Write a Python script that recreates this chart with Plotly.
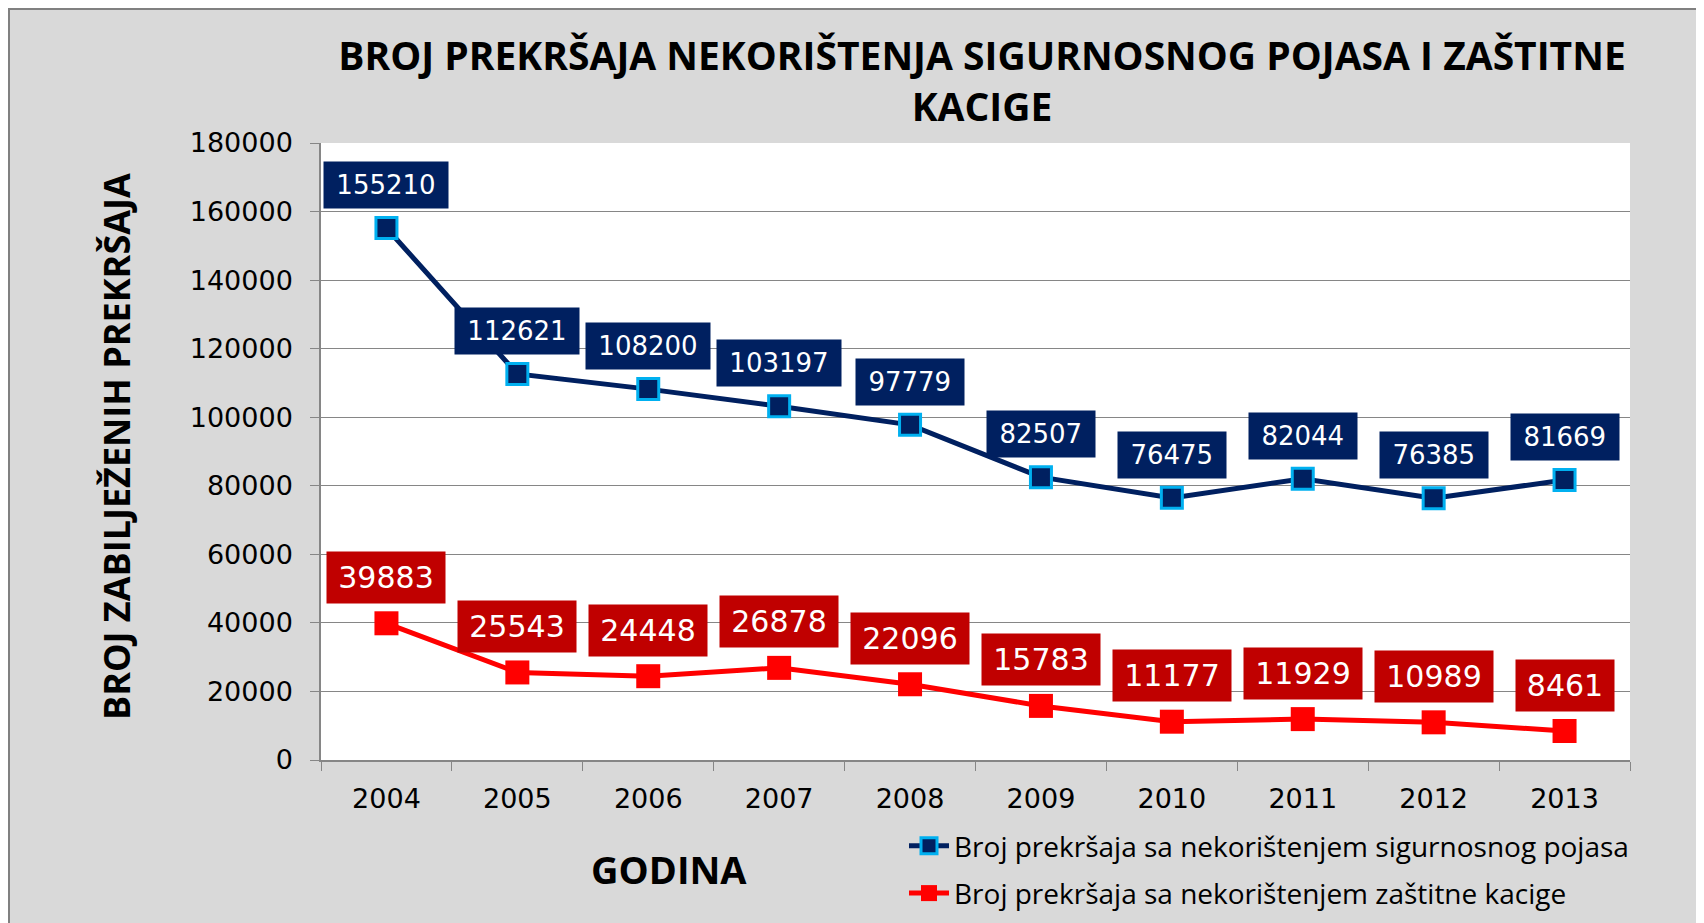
import plotly.graph_objects as go

years = ["2004", "2005", "2006", "2007", "2008", "2009", "2010", "2011", "2012", "2013"]
pojas = [155210, 112621, 108200, 103197, 97779, 82507, 76475, 82044, 76385, 81669]
kaciga = [39883, 25543, 24448, 26878, 22096, 15783, 11177, 11929, 10989, 8461]
name_pojas = "Broj prekršaja sa nekorištenjem sigurnosnog pojasa"
name_kaciga = "Broj prekršaja sa nekorištenjem zaštitne kacige"
title_text = "BROJ PREKRŠAJA NEKORIŠTENJA SIGURNOSNOG POJASA I ZAŠTITNE<br>KACIGE"
y_title = "BROJ ZABILJEŽENIH PREKRŠAJA"
x_title = "GODINA"
y_ticks = [0, 20000, 40000, 60000, 80000, 100000, 120000, 140000, 160000, 180000]

OFF = 8  # browser body margin
W, H = 1704 - OFF, 923 - OFF
L, T = 321 - OFF, 143 - OFF
R = W - (1630 - OFF)
B = H - (760 - OFF)
PW, PH = W - L - R, H - T - B

NAVY = "#002060"
LIGHTBLUE = "#00b0f0"
RED = "#ff0000"
DARKRED = "#c00000"
GRID = "#868686"


def px_x(p):
    return (p - OFF - L) / PW


def px_y(p):
    return (H - B - (p - OFF)) / PH


fig = go.Figure()
fig.add_trace(go.Scatter(
    x=years, y=pojas, name=name_pojas, mode="lines+markers",
    line=dict(color=NAVY, width=5),
    marker=dict(symbol="square", size=21, color=NAVY, line=dict(color=LIGHTBLUE, width=3)),
    legendgroup="a",
))
fig.add_trace(go.Scatter(
    x=years, y=kaciga, name=name_kaciga, mode="lines+markers",
    line=dict(color=RED, width=5),
    marker=dict(symbol="square", size=24, color=RED, line=dict(color=RED, width=0)),
    legendgroup="b",
))

annotations = []
for i, v in enumerate(pojas):
    s = str(v)
    annotations.append(dict(
        x=i, y=v, xref="x", yref="y", text=s, showarrow=False,
        yshift=43, bgcolor=NAVY, borderpad=8, width=len(s) * 16.5 + 9,
        font=dict(family="DejaVu Sans", size=26, color="white"),
    ))
for i, v in enumerate(kaciga):
    s = str(v)
    annotations.append(dict(
        x=i, y=v, xref="x", yref="y", text=s, showarrow=False,
        yshift=46, bgcolor=DARKRED, borderpad=8, width=len(s) * 20 + 2,
        font=dict(family="DejaVu Sans", size=30, color="white"),
    ))

# axis titles
annotations.append(dict(
    x=px_x(116), y=px_y(446), xref="paper", yref="paper",
    text=y_title, textangle=-90, showarrow=False,
    font=dict(family="Open Sans", size=36, color="black", weight="bold"),
    xanchor="center", yanchor="middle",
))
annotations.append(dict(
    x=px_x(669), y=px_y(869), xref="paper", yref="paper",
    text=x_title, showarrow=False,
    font=dict(family="Open Sans", size=38, color="black", weight="bold"),
    xanchor="center", yanchor="middle",
))

shapes = [
    dict(type="rect", xref="paper", yref="paper", layer="below",
         x0=px_x(OFF), x1=px_x(1704 + 20),
         y0=px_y(923 + 20), y1=px_y(OFF),
         fillcolor="rgba(0,0,0,0)", line=dict(color="#808080", width=4)),
]

fig.update_layout(
    width=W, height=H,
    margin=dict(l=L, r=R, t=T, b=B, autoexpand=False),
    paper_bgcolor="#d9d9d9",
    plot_bgcolor="white",
    title=dict(
        text=title_text, x=(982 - OFF) / W, xref="container", xanchor="center",
        y=1 - 62 / H, yref="container", yanchor="middle",
        font=dict(family="Open Sans", size=39, color="black", weight="bold"),
    ),
    xaxis=dict(
        type="category", tickson="boundaries", ticks="outside", ticklen=9,
        tickcolor=GRID, showline=True, linecolor=GRID, linewidth=1.5,
        showgrid=False, range=[-0.5, 9.5],
        tickfont=dict(family="DejaVu Sans", size=27, color="black"),
        ticklabelstandoff=14,
    ),
    yaxis=dict(
        range=[0, 180000], tickvals=y_ticks, ticktext=[str(t) for t in y_ticks],
        ticks="outside", ticklen=9, tickcolor=GRID,
        showline=True, linecolor=GRID, linewidth=1.5,
        showgrid=True, gridcolor=GRID, gridwidth=1.2, zeroline=False,
        tickfont=dict(family="DejaVu Sans", size=27, color="black"),
        ticklabelstandoff=12,
    ),
    legend=dict(
        x=(904 - OFF) / W, xref="container", xanchor="left",
        y=1 - (821 - OFF) / H, yref="container", yanchor="top",
        bgcolor="rgba(0,0,0,0)", tracegroupgap=8,
        font=dict(family="Open Sans", size=28, color="black"),
        itemwidth=40,
    ),
    showlegend=True,
    annotations=annotations,
    shapes=shapes,
)

fig.write_html("out.html")
